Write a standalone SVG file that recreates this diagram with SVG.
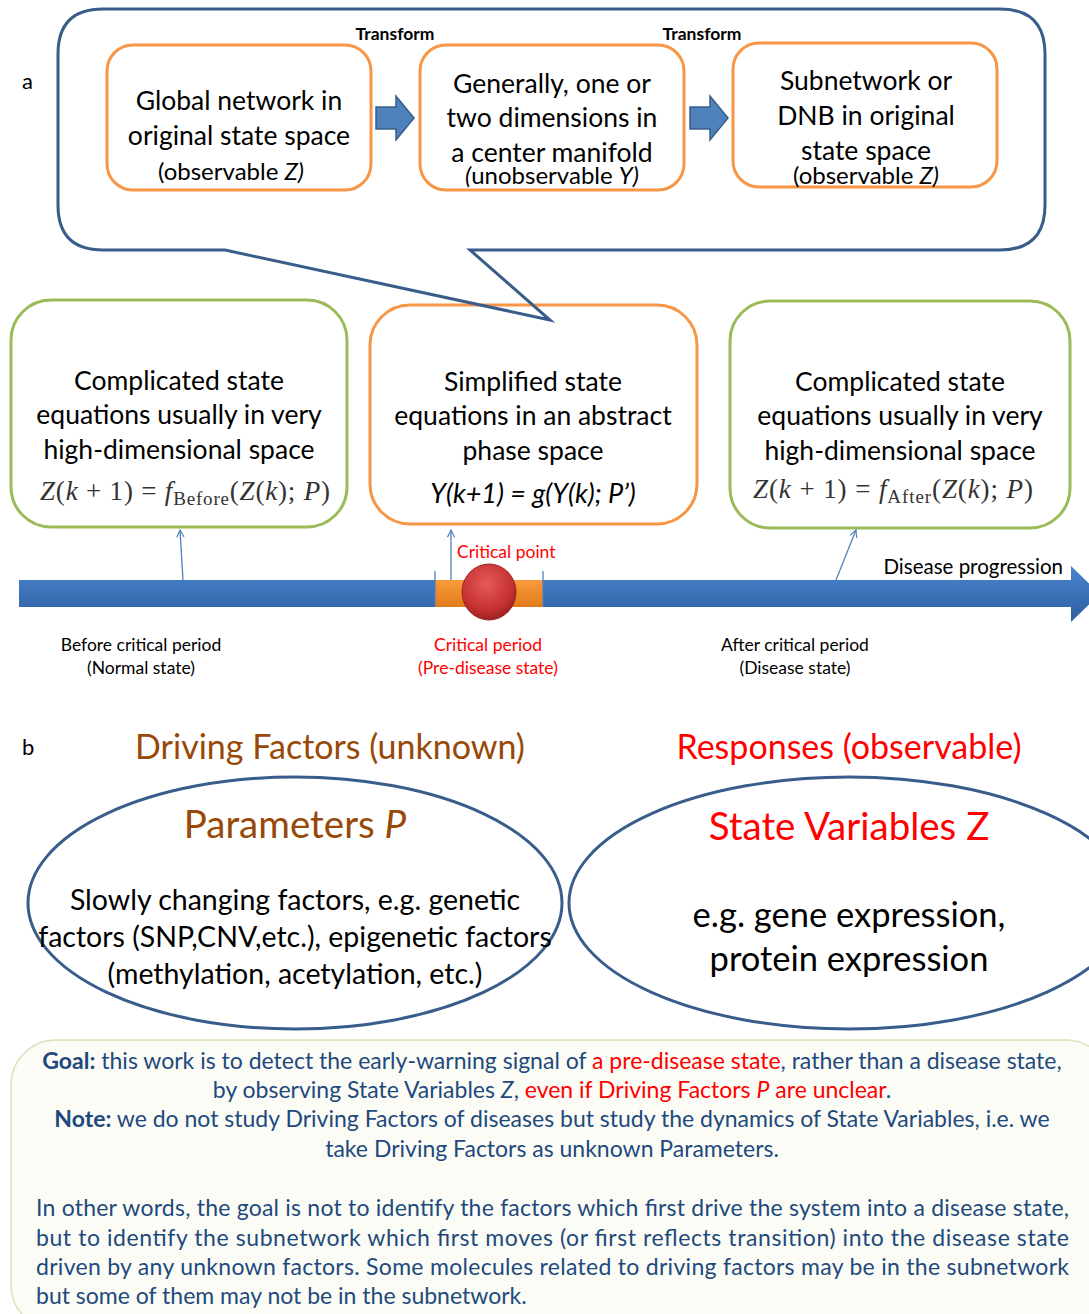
<svg xmlns="http://www.w3.org/2000/svg" width="1089" height="1314" viewBox="0 0 1089 1314">
<defs>
<style>
text{font-family:Lato,"Liberation Sans",sans-serif;fill:#000}
.ob{fill:#fff;stroke:#F79646;stroke-width:3}
.gb{fill:#fff;stroke:#9BBB59;stroke-width:3}
.t24{font-size:26.5px;text-anchor:middle}
.t20{font-size:24px;text-anchor:middle}
.tr{font-size:17.5px;font-weight:bold;text-anchor:middle}
.math{font-family:"Liberation Serif","DejaVu Serif",serif;font-size:27px;fill:#333}
.lab{font-size:17.5px;text-anchor:middle}
.red{fill:#FF0000}
.brown{fill:#984807}
.blue{fill:#1F497D}
.ell{fill:none;stroke:#385D8A;stroke-width:3}
.conn{stroke:#4F81BD;stroke-width:1.3;fill:none}
.barr{fill:#4F81BD;stroke:#385D8A;stroke-width:1.5}
.bt{font-size:23px}
</style>
<linearGradient id="bar" x1="0" y1="0" x2="0" y2="1">
<stop offset="0" stop-color="#4A84CF"/>
<stop offset="1" stop-color="#2E5E9E"/>
</linearGradient>
<linearGradient id="org" x1="0" y1="0" x2="0" y2="1">
<stop offset="0" stop-color="#FA9A3C"/>
<stop offset="1" stop-color="#E07B1A"/>
</linearGradient>
<radialGradient id="ball" cx="0.45" cy="0.35" r="0.7">
<stop offset="0" stop-color="#E55A5A"/>
<stop offset="0.7" stop-color="#C43030"/>
<stop offset="1" stop-color="#8E1A1A"/>
</radialGradient>
<marker id="oa" viewBox="0 0 10 10" refX="9" refY="5" markerWidth="9" markerHeight="9" orient="auto" markerUnits="userSpaceOnUse">
<path d="M1 1 L9 5 L1 9" fill="none" stroke="#4F81BD" stroke-width="1.3"/>
</marker>
</defs>
<rect width="1089" height="1314" fill="#fff"/>

<text x="22" y="89" style="font-size:22px">a</text>

<g id="global-network">
<rect class="ob" x="107" y="45" width="264" height="145" rx="26"/>
<text class="t24" x="239" y="110">Global network in</text>
<text class="t24" x="239" y="145">original state space</text>
<text class="t20" x="231" y="180">(observable <tspan font-style="italic">Z)</tspan></text>
</g>

<g id="center-manifold">
<rect class="ob" x="420" y="45" width="264" height="145" rx="26"/>
<text class="t24" x="552" y="93">Generally, one or</text>
<text class="t24" x="552" y="127">two dimensions in</text>
<text class="t24" x="552" y="162">a center manifold</text>
<text class="t20" x="552" y="184"><tspan font-style="italic">(</tspan>unobservable <tspan font-style="italic">Y)</tspan></text>
</g>

<g id="subnetwork">
<rect class="ob" x="733" y="43" width="264" height="144" rx="26"/>
<text class="t24" x="866" y="90">Subnetwork or</text>
<text class="t24" x="866" y="125">DNB in original</text>
<text class="t24" x="866" y="160">state space</text>
<text class="t20" x="866" y="184">(observable <tspan font-style="italic">Z)</tspan></text>
</g>

<g id="before-box">
<rect class="gb" x="11" y="300" width="336" height="227" rx="40"/>
<text class="t24" x="179" y="390">Complicated state</text>
<text class="t24" x="179" y="424">equations usually in very</text>
<text class="t24" x="179" y="459">high-dimensional space</text>
<text class="math" x="40" y="500" textLength="290" lengthAdjust="spacing"><tspan font-style="italic">Z</tspan>(<tspan font-style="italic">k</tspan> + 1) = <tspan font-style="italic">f</tspan><tspan font-size="19" dy="5">Before</tspan><tspan dy="-5">(</tspan><tspan font-style="italic">Z</tspan>(<tspan font-style="italic">k</tspan>); <tspan font-style="italic">P</tspan>)</text>
</g>

<g id="simplified-box">
<rect class="ob" x="370" y="305" width="327" height="219" rx="40"/>
<text class="t24" x="533" y="391">Simplified state</text>
<text class="t24" x="533" y="425">equations in an abstract</text>
<text class="t24" x="533" y="460">phase space</text>
<text class="t24" x="533" y="503" font-style="italic" style="font-size:27px">Y(k+1) = g(Y(k); P’)</text>
</g>

<g id="after-box">
<rect class="gb" x="730" y="301" width="340" height="227" rx="40"/>
<text class="t24" x="900" y="391">Complicated state</text>
<text class="t24" x="900" y="425">equations usually in very</text>
<text class="t24" x="900" y="460">high-dimensional space</text>
<text class="math" x="753" y="498" textLength="280" lengthAdjust="spacing"><tspan font-style="italic">Z</tspan>(<tspan font-style="italic">k</tspan> + 1) = <tspan font-style="italic">f</tspan><tspan font-size="19" dy="5">After</tspan><tspan dy="-5">(</tspan><tspan font-style="italic">Z</tspan>(<tspan font-style="italic">k</tspan>); <tspan font-style="italic">P</tspan>)</text>
</g>

<g id="callout">
<path d="M103 9 H1000 Q1045 9 1045 54 V205 Q1045 250 1000 250 H470 L550 320 L225 250 H103 Q58 250 58 205 V54 Q58 9 103 9 Z" fill="none" stroke="#385D8A" stroke-width="3" stroke-linejoin="miter"/>
</g>

<g id="connectors">
<path class="barr" d="M376 107 H396 V96 L414 118 L396 140 V129 H376 Z"/>
<path class="barr" d="M690 107 H710 V96 L728 118 L710 140 V129 H690 Z"/>
<line class="conn" x1="183" y1="580" x2="180" y2="530" marker-end="url(#oa)"/>
<line class="conn" x1="451" y1="580" x2="451" y2="530" marker-end="url(#oa)"/>
<line class="conn" x1="836" y1="580" x2="856" y2="530" marker-end="url(#oa)"/>
</g>

<text x="395" y="40" class="tr">Transform</text>
<text x="702" y="40" class="tr">Transform</text>

<g id="timeline">
<path d="M19 580 H1071 V566 L1100 594 L1071 622 V607 H19 Z" fill="url(#bar)"/>
<rect x="435" y="580" width="108" height="27" fill="url(#org)"/>
<line x1="435" y1="571" x2="435" y2="607" stroke="#4F81BD" stroke-width="1.3"/>
<line x1="543" y1="571" x2="543" y2="607" stroke="#4F81BD" stroke-width="1.3"/>
<ellipse cx="489" cy="592" rx="27" ry="28" fill="url(#ball)" stroke="#9E2323" stroke-width="1"/>
<text x="457" y="558" style="font-size:17.5px" class="red">Critical point</text>
<text x="1063" y="574" style="font-size:20.5px;text-anchor:end">Disease progression</text>
<text class="lab" x="141" y="651">Before critical period</text>
<text class="lab" x="141" y="674">(Normal state)</text>
<text class="lab red" x="488" y="651">Critical period</text>
<text class="lab red" x="488" y="674">(Pre-disease state)</text>
<text class="lab" x="795" y="651">After critical period</text>
<text class="lab" x="795" y="674">(Disease state)</text>
</g>

<text x="22" y="755" style="font-size:22px">b</text>
<text x="330" y="759" class="brown" style="font-size:34px;text-anchor:middle">Driving Factors (unknown)</text>
<text x="849" y="759" class="red" style="font-size:34px;text-anchor:middle">Responses (observable)</text>

<g id="parameters">
<ellipse class="ell" cx="295" cy="903" rx="267" ry="126"/>
<text x="295" y="838" class="brown" style="font-size:38.5px;text-anchor:middle">Parameters <tspan font-style="italic">P</tspan></text>
<text x="295" y="910" style="font-size:28.5px;text-anchor:middle">Slowly changing factors, e.g. genetic</text>
<text x="295" y="947" style="font-size:28.5px;text-anchor:middle">factors (SNP,CNV,etc.), epigenetic factors</text>
<text x="295" y="984" style="font-size:28.5px;text-anchor:middle">(methylation, acetylation, etc.)</text>
</g>

<g id="state-variables">
<ellipse class="ell" cx="849" cy="903" rx="280" ry="126"/>
<text x="849" y="840" class="red" style="font-size:38.5px;text-anchor:middle">State Variables Z</text>
<text x="849" y="927" style="font-size:34.5px;text-anchor:middle">e.g. gene expression,</text>
<text x="849" y="971" style="font-size:34.5px;text-anchor:middle">protein expression</text>
</g>

<g id="note-box">
<rect x="11" y="1040" width="1100" height="290" rx="45" fill="#FAFCF5" stroke="#D7E4BD" stroke-width="1.5"/>
<text x="552" y="1069" class="blue bt" style="text-anchor:middle"><tspan font-weight="bold">Goal:</tspan> this work is to detect the early-warning signal of <tspan class="red">a pre-disease state</tspan>, rather than a disease state,</text>
<text x="552" y="1098" class="blue bt" style="text-anchor:middle">by observing State Variables <tspan font-style="italic">Z</tspan>,  <tspan class="red">even if Driving Factors <tspan font-style="italic">P</tspan> are unclear</tspan>.</text>
<text x="552" y="1127" class="blue bt" style="text-anchor:middle"><tspan font-weight="bold">Note:</tspan> we do not study Driving Factors of diseases but study  the dynamics of State Variables, i.e. we</text>
<text x="552" y="1157" class="blue bt" style="text-anchor:middle">take Driving Factors as unknown Parameters.</text>
<text x="36" y="1216" class="blue bt" textLength="1033" lengthAdjust="spacing">In other words, the goal is not to identify the factors which first drive the system into a disease state,</text>
<text x="36" y="1246" class="blue bt" textLength="1033" lengthAdjust="spacing">but to identify the subnetwork which first moves (or first reflects transition) into the disease state</text>
<text x="36" y="1275" class="blue bt" textLength="1033" lengthAdjust="spacing">driven by any unknown factors. Some molecules related to driving factors may be in the subnetwork</text>
<text x="36" y="1304" class="blue bt">but some of them may not be in the subnetwork.</text>
</g>
</svg>
